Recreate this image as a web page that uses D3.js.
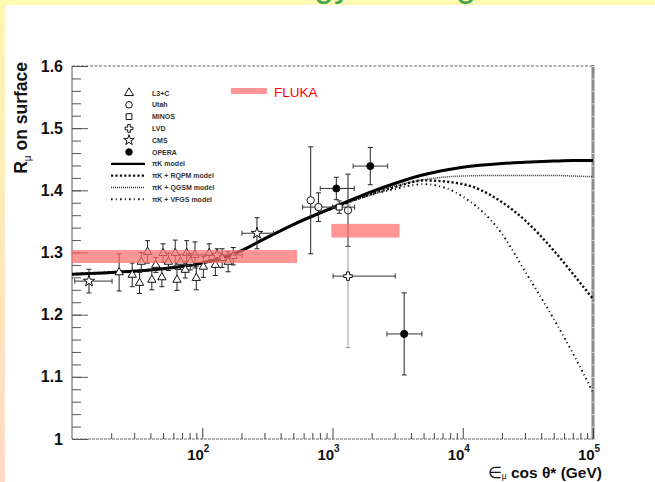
<!DOCTYPE html>
<html>
<head>
<meta charset="utf-8">
<script src="https://cdn.jsdelivr.net/npm/d3@7"></script>
<style>
  body { margin: 0; background: #fff; }
  svg { display: block; }
  text { font-family: "Liberation Sans", Arial, Helvetica, sans-serif; }
</style>
</head>
<body>
<svg id="chart" width="655" height="482"></svg>
<script>
// ---- data ----
// model curves (energy in GeV)
var modelE    = [10, 20, 50, 100, 200, 300, 500, 1000, 2000, 3000, 5000, 1e4, 2e4, 3e4, 5e4, 7e4, 1e5];
var modelPiK  = [1.265,1.268,1.274,1.283,1.303,1.322,1.345,1.372,1.398,1.411,1.425,1.437,1.443,1.445,1.447,1.448,1.448];
var modelQGSM = [1.265,1.268,1.274,1.283,1.303,1.322,1.345,1.372,1.396,1.407,1.417,1.423,1.424,1.424,1.424,1.423,1.422];
var modelRQPM = [1.265,1.268,1.274,1.283,1.303,1.322,1.345,1.371,1.394,1.405,1.416,1.410,1.381,1.352,1.303,1.266,1.225];
var modelVFGS = [1.265,1.268,1.274,1.283,1.303,1.322,1.345,1.371,1.393,1.402,1.410,1.390,1.330,1.270,1.193,1.138,1.075];

// measurements: [E, R, dR, Elow, Ehigh]  (Elow/Ehigh null = no horizontal bar)
var l3c = [
  [23, 1.268, 0.030, null, null], [29, 1.264, 0.019, null, null], [33, 1.251, 0.017, null, null],
  [34, 1.285, 0.015, null, null], [38, 1.301, 0.018, null, null], [41, 1.256, 0.016, null, null],
  [44, 1.280, 0.012, null, null], [49, 1.260, 0.015, null, null], [50, 1.299, 0.015, null, null],
  [55, 1.285, 0.014, null, null], [62, 1.299, 0.021, null, null], [64, 1.256, 0.017, null, null],
  [68, 1.285, 0.012, null, null], [74, 1.272, 0.013, null, null], [76, 1.299, 0.020, null, null],
  [81, 1.285, 0.013, null, null], [88, 1.296, 0.021, null, null], [90, 1.259, 0.019, null, null],
  [102, 1.277, 0.017, null, null], [113, 1.299, 0.015, null, null], [126, 1.280, 0.017, null, null],
  [142, 1.291, 0.015, null, null], [158, 1.285, 0.016, null, null], [173, 1.294, 0.014, null, null]
];
var utah  = [[680, 1.384, 0.086, null, null], [780, 1.373, 0.023, 590, 1050], [1315, 1.368, 0.058, null, null]];
var minos = [[1127, 1.373, 0.010, 1000, 1480]];
var lvd   = [[1315, 1.262, 0.115, 1010, 3030]];
var cms   = [[13.5, 1.254, 0.019, 10.5, 20.3], [130, 1.296, 0.010, 76, 203], [263, 1.331, 0.025, 202, 352]];
var opera = [[1070, 1.403, 0.018, 805, 1470], [1950, 1.439, 0.030, 1440, 2650], [3550, 1.169, 0.066, 2620, 4860]];

// FLUKA bands: [Elow, Ehigh, Rlow, Rhigh]
var flukaBands = [[10, 535, 1.283, 1.304], [980, 3270, 1.324, 1.346]];

var yTicks = [1, 1.1, 1.2, 1.3, 1.4, 1.5, 1.6];
var xLabelExp = [2, 3, 4, 5];

// ---- setup ----
var svg = d3.select("#chart");
var W = 655, H = 482;
var x = d3.scaleLog().domain([10, 1e5]).range([72, 593]);
var y = d3.scaleLinear().domain([1, 1.6]).range([439, 66]);

// slide background bits
var grad = svg.append("defs").append("linearGradient")
  .attr("id", "side").attr("x1", 0).attr("y1", 0).attr("x2", 0).attr("y2", 1);
grad.append("stop").attr("offset", "0%").attr("stop-color", "#fff7b0");
grad.append("stop").attr("offset", "100%").attr("stop-color", "#ffdac4");
svg.append("rect").attr("x", 0).attr("y", 0).attr("width", 5).attr("height", H).attr("fill", "url(#side)");
svg.append("rect").attr("x", 0).attr("y", 0).attr("width", W).attr("height", 5).attr("fill", "#fff9b2");
// slide title, only its descenders show below the top edge
svg.append("text").attr("x", 314).attr("y", -4).attr("font-size", 36).attr("fill", "#43a84a").text("gy");
svg.append("text").attr("x", 456).attr("y", -4).attr("font-size", 36).attr("fill", "#43a84a").text("g");

// ---- axes / frame ----
var minorY = d3.range(1, 1.6001, 0.02).map(function(v) { return +v.toFixed(2); });
var decadeMinor = [];
[10, 100, 1000, 1e4].forEach(function(d) { for (var k = 2; k <= 9; k++) decadeMinor.push(d * k); });

function styleAxis(g, col) {
  g.select(".domain").remove();
  g.selectAll(".tick line").attr("stroke", col);
}

// top and right frame
svg.append("line").attr("x1", 72).attr("x2", 593).attr("y1", y(1.6)).attr("y2", y(1.6))
  .attr("stroke", "#666").attr("stroke-dasharray", "3,1.5");
svg.append("line").attr("x1", 593).attr("x2", 593).attr("y1", y(1.6) - 1).attr("y2", 440)
  .attr("stroke", "#8a8a8a").attr("stroke-width", 3);
svg.append("g").attr("transform", "translate(592,0)")
  .call(d3.axisLeft(y).tickValues(minorY).tickSize(-3).tickFormat(""))
  .call(styleAxis, "#d8d8d8");

// left axis
svg.append("line").attr("x1", 72).attr("x2", 72).attr("y1", y(1.6)).attr("y2", 439).attr("stroke", "#555");
svg.append("g").attr("transform", "translate(72,0)")
  .call(d3.axisLeft(y).tickValues(minorY).tickSize(-9).tickFormat(""))
  .call(styleAxis, "#555");
svg.append("g").attr("transform", "translate(72,0)")
  .call(d3.axisLeft(y).tickValues(yTicks).tickSize(-16).tickPadding(9).tickFormat(d3.format("~g")))
  .call(styleAxis, "#555")
  .call(function(g) {
    g.selectAll("text").attr("font-size", 16).attr("font-weight", "bold")
      .attr("fill", "#111").attr("font-family", "Liberation Sans, Arial, sans-serif");
  });

// bottom axis
svg.append("line").attr("x1", 72).attr("x2", 593).attr("y1", 439).attr("y2", 439)
  .attr("stroke", "#666").attr("stroke-dasharray", "3,1");
svg.append("g").attr("transform", "translate(0,439)")
  .call(d3.axisBottom(x).tickValues(decadeMinor).tickSize(-6).tickFormat(""))
  .call(styleAxis, "#444");
svg.append("g").attr("transform", "translate(0,439)")
  .call(d3.axisBottom(x).tickValues(xLabelExp.map(function(e) { return Math.pow(10, e); }))
    .tickSize(-11).tickFormat(""))
  .call(styleAxis, "#444");

var xl = svg.append("g").selectAll("text").data(xLabelExp).join("text")
  .attr("x", function(e) { return x(Math.pow(10, e)) - 4; })
  .attr("y", 460)
  .attr("text-anchor", "middle")
  .attr("font-size", 15).attr("font-weight", "bold").attr("fill", "#111");
xl.append("tspan").text("10");
xl.append("tspan").attr("dy", -8).attr("font-size", 10).text(function(e) { return e; });

// axis titles
var xt = svg.append("text").attr("x", 602).attr("y", 478).attr("text-anchor", "end")
  .attr("font-size", 15.5).attr("font-weight", "bold").attr("fill", "#111");
xt.append("tspan").attr("font-weight", "normal").text("\u2208");
xt.append("tspan").attr("dy", 1).attr("font-size", 8.5).attr("font-weight", "normal").text("\u03bc");
xt.append("tspan").attr("dy", -1).text(" cos \u03b8* (GeV)");

var yt = svg.append("text").attr("transform", "translate(27,62) rotate(-90)")
  .attr("text-anchor", "end").attr("font-size", 17.5).attr("font-weight", "bold").attr("fill", "#111");
yt.append("tspan").text("R");
yt.append("tspan").attr("dy", 4).attr("font-size", 10).attr("font-weight", "normal").text("\u03bc");
yt.append("tspan").attr("dy", -4).text(" on surface");

// ---- model curves ----
var lineStyles = {
  pik:  { w: 3,   dash: null,            col: "#000" },
  rqpm: { w: 2.4, dash: "2.2,2.2",       col: "#111" },
  qgsm: { w: 1.5, dash: "1,1",           col: "#333" },
  vfgs: { w: 1.9, dash: "1.6,3.2,1,3.2", col: "#111" }
};
var models = [
  { key: "qgsm", vals: modelQGSM },
  { key: "vfgs", vals: modelVFGS },
  { key: "rqpm", vals: modelRQPM },
  { key: "pik",  vals: modelPiK }
];
var line = d3.line()
  .x(function(d) { return x(d[0]); })
  .y(function(d) { return y(d[1]); })
  .curve(d3.curveMonotoneX);
svg.append("g").selectAll("path").data(models).join("path")
  .attr("d", function(m) { return line(modelE.map(function(e, i) { return [e, m.vals[i]]; })); })
  .attr("fill", "none")
  .attr("stroke", function(m) { return lineStyles[m.key].col; })
  .attr("stroke-width", function(m) { return lineStyles[m.key].w; })
  .attr("stroke-dasharray", function(m) { return lineStyles[m.key].dash; });

// ---- data points ----
var sets = [
  { pts: l3c,   sym: d3.symbolTriangle, size: 30, fill: "#fff", ecol: "#222" },
  { pts: utah,  sym: d3.symbolCircle,   size: 42, fill: "#fff", ecol: "#222" },
  { pts: minos, sym: d3.symbolSquare,   size: 34, fill: "#fff", ecol: "#222" },
  { pts: lvd,   sym: d3.symbolCross,    size: 40, fill: "#fff", ecol: "#9a9a9a" },
  { pts: cms,   sym: d3.symbolStar,     size: 40, fill: "#fff", ecol: "#222" },
  { pts: opera, sym: d3.symbolCircle,   size: 40, fill: "#000", ecol: "#222" }
];
var cap = 2.5;
sets.forEach(function(s) {
  var g = svg.append("g");
  s.pts.forEach(function(p) {
    var px = x(p[0]), py = y(p[1]), y0 = y(p[1] - p[2]), y1 = y(p[1] + p[2]);
    var eb = g.append("g").attr("stroke", s.ecol).attr("stroke-width", 1);
    eb.append("line").attr("x1", px).attr("x2", px).attr("y1", y0).attr("y2", y1);
    eb.append("line").attr("x1", px - cap).attr("x2", px + cap).attr("y1", y0).attr("y2", y0);
    eb.append("line").attr("x1", px - cap).attr("x2", px + cap).attr("y1", y1).attr("y2", y1);
    if (p[3] != null) {
      var x0 = x(p[3]), x1 = x(p[4]);
      eb.append("line").attr("x1", x0).attr("x2", x1).attr("y1", py).attr("y2", py).attr("stroke", "#333");
      eb.append("line").attr("x1", x0).attr("x2", x0).attr("y1", py - cap).attr("y2", py + cap).attr("stroke", "#333");
      eb.append("line").attr("x1", x1).attr("x2", x1).attr("y1", py - cap).attr("y2", py + cap).attr("stroke", "#333");
    }
    g.append("path")
      .attr("d", d3.symbol().type(s.sym).size(s.size)())
      .attr("transform", "translate(" + px + "," + py + ")")
      .attr("fill", s.fill).attr("stroke", "#111").attr("stroke-width", 1);
  });
});

// ---- FLUKA bands ----
svg.append("g").selectAll("rect").data(flukaBands).join("rect")
  .attr("x", function(b) { return x(b[0]); })
  .attr("width", function(b) { return x(b[1]) - x(b[0]); })
  .attr("y", function(b) { return y(b[3]); })
  .attr("height", function(b) { return y(b[2]) - y(b[3]); })
  .attr("fill", "#ff6e6e").attr("opacity", 0.72);

// ---- legend ----
var legendRows = [
  { label: "L3+C", sym: d3.symbolTriangle, fill: "#fff" },
  { label: "Utah", sym: d3.symbolCircle, fill: "#fff" },
  { label: "MINOS", sym: d3.symbolSquare, fill: "#fff" },
  { label: "LVD", sym: d3.symbolCross, fill: "#fff" },
  { label: "CMS", sym: d3.symbolStar, fill: "#fff" },
  { label: "OPERA", sym: d3.symbolCircle, fill: "#000" },
  { label: "\u03c0K model", line: "pik" },
  { label: "\u03c0K + RQPM model", line: "rqpm" },
  { label: "\u03c0K + QGSM model", line: "qgsm" },
  { label: "\u03c0K + VFGS model", line: "vfgs" }
];
var lg = svg.append("g").selectAll("g").data(legendRows).join("g")
  .attr("transform", function(d, i) { return "translate(0," + (93 + i * 11.8) + ")"; });
lg.filter(function(d) { return d.sym; }).append("path")
  .attr("d", function(d) { return d3.symbol().type(d.sym).size(34)(); })
  .attr("transform", "translate(129,0)")
  .attr("fill", function(d) { return d.fill; }).attr("stroke", "#111");
lg.filter(function(d) { return d.line; }).append("line")
  .attr("x1", 111).attr("x2", 145).attr("y1", 0).attr("y2", 0)
  .attr("stroke", function(d) { return lineStyles[d.line].col; })
  .attr("stroke-width", function(d) { return Math.min(lineStyles[d.line].w, 2.2); })
  .attr("stroke-dasharray", function(d) { return lineStyles[d.line].dash; });
lg.append("text").attr("x", 152).attr("y", 2.5)
  .attr("font-size", 7).attr("font-weight", "bold").attr("fill", "#333")
  .text(function(d) { return d.label; });

// FLUKA key
svg.append("rect").attr("x", 231).attr("y", 88).attr("width", 36).attr("height", 6)
  .attr("fill", "#ff6e6e").attr("opacity", 0.72);
svg.append("text").attr("x", 274).attr("y", 96.5).attr("font-size", 13.5).attr("fill", "#ff0000").text("FLUKA");
</script>
</body>
</html>
